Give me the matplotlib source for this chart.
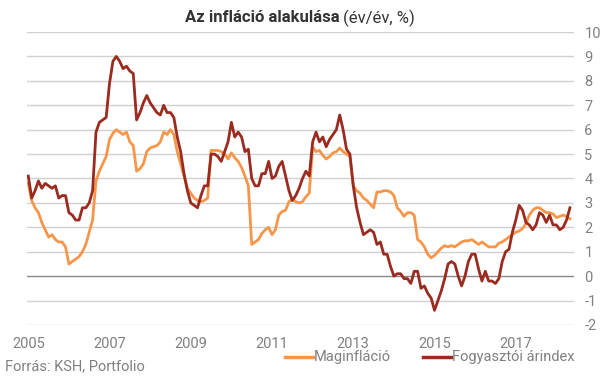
import matplotlib
matplotlib.use("Agg")
import matplotlib.pyplot as plt
from matplotlib.lines import Line2D
import numpy as np

plt.rcParams['font.family'] = ['Roboto', 'DejaVu Sans']

start_year = 2005
tick_years = ["2005", "2007", "2009", "2011", "2013", "2015", "2017"]
y_ticks = [-2, -1, 0, 1, 2, 3, 4, 5, 6, 7, 8, 9, 10]

# Maginfláció (core inflation), monthly, 2005-01 .. 2018-05
core = [3.8, 3.1, 2.8, 2.6, 2.2, 1.9, 1.6, 1.7, 1.5, 1.4, 1.4, 1.2,
        0.5, 0.6, 0.7, 0.8, 1.0, 1.3, 1.8, 2.3, 3.9, 4.3, 4.6, 4.9,
        5.6, 5.85, 6.0, 5.9, 5.8, 5.9, 5.5, 5.35, 4.3, 4.4, 4.6, 5.1,
        5.25, 5.3, 5.35, 5.5, 5.9, 5.8, 6.0, 5.8, 5.1, 4.6, 4.1, 3.6,
        3.4, 3.2, 3.1, 3.05, 3.1, 3.2, 5.15, 5.15, 5.15, 5.1, 5.0, 4.8,
        5.05, 4.85, 4.7, 4.45, 4.1, 3.7, 1.3, 1.4, 1.5, 1.75, 1.9, 2.0,
        1.7, 1.9, 2.5, 2.65, 2.7, 3.05, 3.15, 3.05, 3.0, 3.05, 3.25, 3.4,
        5.3, 5.1, 5.15, 4.95, 4.8, 4.9, 5.05, 5.1, 5.25, 5.1, 5.0, 4.9,
        3.7, 3.5, 3.4, 3.2, 3.1, 2.95, 2.8, 3.45, 3.45, 3.5, 3.5, 3.45,
        3.3, 2.8, 2.65, 2.45, 2.6, 2.6, 2.5, 1.5, 1.4, 1.2, 0.9, 0.75,
        0.85, 1.0, 1.15, 1.25, 1.2, 1.25, 1.2, 1.3, 1.4, 1.45, 1.45, 1.5,
        1.4, 1.3, 1.4, 1.3, 1.2, 1.2, 1.2, 1.35, 1.4, 1.5, 1.6, 1.7,
        1.8, 1.85, 1.95, 2.15, 2.5, 2.7, 2.8, 2.8, 2.7, 2.6, 2.6, 2.55,
        2.4, 2.45, 2.5, 2.45, 2.35]

# Fogyasztói árindex (CPI), monthly, 2005-01 .. 2018-05
cpi = [4.1, 3.2, 3.5, 3.9, 3.6, 3.8, 3.7, 3.6, 3.7, 3.2, 3.3, 3.3,
       2.6, 2.5, 2.3, 2.3, 2.8, 2.8, 3.0, 3.5, 5.9, 6.3, 6.4, 6.5,
       7.9, 8.8, 9.0, 8.8, 8.5, 8.6, 8.4, 8.3, 6.4, 6.7, 7.1, 7.4,
       7.1, 6.9, 6.7, 6.6, 7.0, 6.7, 6.7, 6.5, 5.7, 5.1, 4.2, 3.5,
       3.0, 2.9, 2.8, 3.3, 3.7, 3.7, 5.0, 5.0, 4.9, 4.7, 5.1, 5.5,
       6.3, 5.7, 5.9, 5.7, 5.1, 5.2, 4.0, 3.7, 3.7, 4.2, 4.2, 4.7,
       4.0, 4.1, 4.5, 4.7, 4.1, 3.5, 3.1, 3.3, 3.6, 4.0, 4.3, 4.1,
       5.5, 5.9, 5.5, 5.7, 5.3, 5.6, 5.8, 6.0, 6.6, 6.0, 5.2, 5.0,
       3.7, 2.8, 2.2, 1.7, 1.8, 1.9, 1.8, 1.3, 1.4, 0.9, 0.9, 0.4,
       0.0, 0.1, 0.1, -0.1, -0.1, -0.3, 0.2, 0.2, -0.5, -0.4, -0.7, -0.9,
       -1.4, -1.0, -0.6, -0.1, 0.5, 0.6, 0.5, 0.0, -0.4, 0.0, 0.6, 0.9,
       0.9, 0.3, -0.2, 0.2, -0.2, -0.2, -0.3, -0.1, 0.6, 1.0, 1.1, 1.8,
       2.3, 2.9, 2.7, 2.2, 2.1, 1.9, 2.1, 2.6, 2.5, 2.2, 2.5, 2.1,
       2.1, 1.9, 2.0, 2.3, 2.8]

series_names = ["Maginfláció", "Fogyasztói árindex"]
c_core = "#F7964A"
c_cpi = "#9B2A1F"
gray_txt = "#808080"

months = np.arange(len(cpi))

fig = plt.figure(figsize=(6.05, 3.78), dpi=100)
ax = fig.add_axes([27/605, 1-325/378, (574-27)/605, (325-32)/378])

for t in y_ticks:
    ax.axhline(t, color="#888888" if t == 0 else "#D0D0D0",
               lw=1.0, zorder=1)

ax.plot(months, core, color=c_core, lw=2.0, zorder=3, solid_joinstyle="round")
ax.plot(months, cpi, color=c_cpi, lw=2.0, zorder=4, solid_joinstyle="round")

ax.set_xlim(-0.38, 161.2)
ax.set_ylim(-2, 10)
ax.yaxis.tick_right()
ax.set_yticks(y_ticks)
ax.set_yticklabels([str(t) for t in y_ticks])
ax.set_xticks([12 * (int(y) - start_year) for y in tick_years])
ax.set_xticklabels(tick_years)
ax.tick_params(axis="both", length=0, labelsize=10.5, colors=gray_txt)
ax.tick_params(axis="y", pad=7.5)
ax.tick_params(axis="x", pad=9)
for s in ax.spines.values():
    s.set_visible(False)

# title: bold part + normal part
t1 = fig.text(0.5, 1-18/378, "Az infláció alakulása ", ha="right", va="center",
              fontsize=12, fontweight="bold", color="#333333")
fig.canvas.draw()
bb = t1.get_window_extent()
w_bold = bb.width / fig.bbox.width
t2 = fig.text(0.5, 1-18/378, "(év/év, %)", ha="left", va="center",
              fontsize=12, color="#333333")
bb2 = t2.get_window_extent()
w_norm = bb2.width / fig.bbox.width
total = w_bold + w_norm
x0 = 300/605 - total/2
t1.set_ha("left"); t1.set_x(x0)
t2.set_x(x0 + w_bold)

fig.text(5/605, 1-366/378, "Forrás: KSH, Portfolio", ha="left", va="center",
         fontsize=10.5, color=gray_txt)

ly = 1-357/378
fig.add_artist(Line2D([285/605, 313/605], [ly, ly], color=c_core, lw=2.5,
                      transform=fig.transFigure))
fig.text(314/605, ly, series_names[0], ha="left", va="center",
         fontsize=10.5, color=gray_txt)
fig.add_artist(Line2D([423/605, 451/605], [ly, ly], color=c_cpi, lw=2.5,
                      transform=fig.transFigure))
fig.text(452/605, ly, series_names[1], ha="left", va="center",
         fontsize=10.5, color=gray_txt)

fig.savefig("out.png", dpi=100)
